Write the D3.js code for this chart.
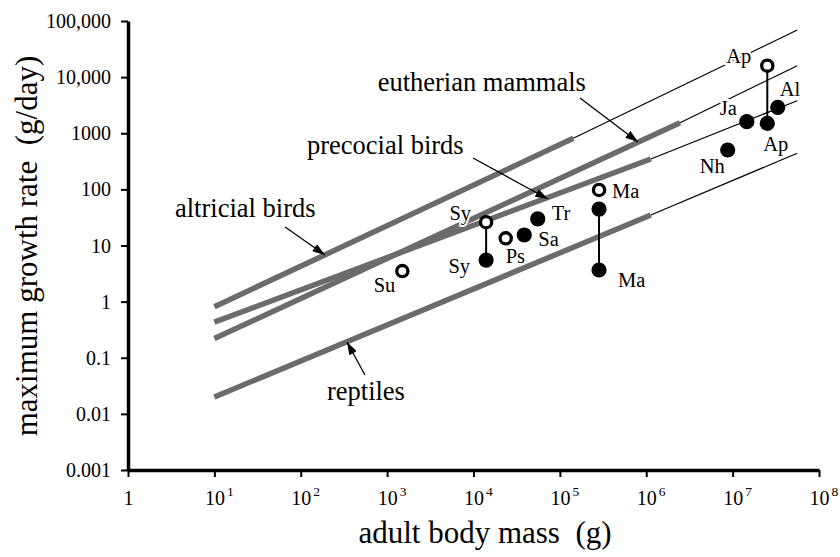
<!DOCTYPE html>
<html>
<head>
<meta charset="utf-8">
<script src="https://cdn.jsdelivr.net/npm/d3@7"></script>
<style>
  html, body { margin: 0; padding: 0; background: #fff; }
  svg { display: block; }
  text { font-family: "Liberation Serif", "Times New Roman", Times, serif; fill: #000; }
</style>
</head>
<body>
<svg id="chart" width="840" height="557"></svg>
<script>
// ---- axis ticks ----
const massTicks = [1, 1e1, 1e2, 1e3, 1e4, 1e5, 1e6, 1e7, 1e8];
const massTickExponents = ["", "1", "2", "3", "4", "5", "6", "7", "8"];
const rateTicks = [0.001, 0.01, 0.1, 1, 10, 100, 1000, 10000, 100000];
const rateTickLabels = ["0.001", "0.01", "0.1", "1", "10", "100", "1000", "10,000", "100,000"];

// ---- allometric growth lines (solid part over the data range, thin extrapolation) ----
const lineGroups       = ["altricial birds", "eutherian mammals", "precocial birds", "reptiles"];
const lineStartMass    = [10, 10, 10, 10];
const lineStartRate    = [0.81, 0.22, 0.43, 0.02];
const lineSolidEndMass = [1.43e5, 2.46e6, 1.13e6, 1.13e6];
const lineSolidEndRate = [813, 1540, 348, 35];
const lineEndMass      = [5.6e7, 5.6e7, 5.6e7, 5.6e7];
const lineEndRate      = [69000, 16000, 3800, 440];

// ---- dinosaur growth-rate estimates ----
const speciesCodes = ["Su", "Sy", "Sy", "Ps", "Sa", "Tr", "Ma", "Ma", "Ma", "Nh", "Ja", "Ap", "Ap", "Al"];
const speciesMass  = [1500, 14000, 14000, 23600, 38700, 55400, 2.84e5, 2.84e5, 2.84e5, 8.77e6, 1.46e7, 2.52e7, 2.52e7, 3.33e7];
const speciesRate  = [3.5, 26, 5.5, 13.4, 15.4, 29.7, 97.5, 44.7, 3.66, 503, 1607, 1505, 16000, 2900];
const speciesOpen  = [true, true, false, true, false, false, true, false, false, false, false, false, true, false];
const linkedPairs  = [[1, 2], [7, 8], [11, 12]];

// ---- annotation text anchors and arrows, in data units ----
const annoText      = ["eutherian mammals", "precocial birds", "altricial birds", "reptiles"];
const annoTextMass  = [2.0e5, 118, 3.5, 201];
const annoTextRate  = [5660, 426, 32.2, 0.0177];
const annoAnchor    = ["end", "start", "start", "start"];
const annoTailMass  = [1.71e5, 9870, 65.8, 554];
const annoTailRate  = [4245, 362, 21.4, 0.0493];
const annoTipMass   = [8.03e5, 72800, 191, 343];
const annoTipRate   = [700, 67.4, 6.77, 0.191];

// label placement offsets (px) for each species marker
const labelPlacement = [
  {dx: -7,  dy: 21,  anchor: "end"},    // Su
  {dx: -15, dy: -2,  anchor: "end"},    // Sy open
  {dx: -16, dy: 13,  anchor: "end"},    // Sy
  {dx: 0,   dy: 25,  anchor: "start"},  // Ps
  {dx: 14,  dy: 11,  anchor: "start"},  // Sa
  {dx: 14,  dy: 1,   anchor: "start"},  // Tr
  {dx: 13,  dy: 8,   anchor: "start"},  // Ma open
  null,                                 // Ma (upper, unlabeled)
  {dx: 19,  dy: 17,  anchor: "start"},  // Ma
  {dx: -3,  dy: 23,  anchor: "end"},    // Nh
  {dx: -10, dy: -7,  anchor: "end"},    // Ja
  {dx: -4,  dy: 28,  anchor: "start"},  // Ap
  {dx: -16, dy: -3,  anchor: "end"},    // Ap open
  {dx: 2,   dy: -11, anchor: "start"}   // Al
];

const svg = d3.select("#chart");
svg.append("rect").attr("width", 840).attr("height", 557).attr("fill", "#fff");

const x = d3.scaleLog().domain([1, 1e8]).range([128, 819]);
const y = d3.scaleLog().domain([0.001, 100000]).range([470, 21]);

const GRAY = "#6b6b6b";

// arrow marker
svg.append("defs").append("marker")
  .attr("id", "arrowhead")
  .attr("markerUnits", "userSpaceOnUse")
  .attr("viewBox", "0 0 12 8")
  .attr("refX", 12).attr("refY", 4)
  .attr("markerWidth", 13).attr("markerHeight", 8.5)
  .attr("orient", "auto")
  .append("path").attr("d", "M0,0 L12,4 L0,8 Z").attr("fill", "#000");

// ---- axes ----
const yAxis = svg.append("g")
  .attr("transform", `translate(${x(1)},0)`)
  .call(d3.axisLeft(y).tickValues(rateTicks)
    .tickFormat((d, i) => rateTickLabels[i])
    .tickSize(7).tickSizeOuter(0).tickPadding(10));
yAxis.select(".domain").attr("stroke", "#000").attr("stroke-width", 3.5);
yAxis.selectAll(".tick line").attr("stroke", "#000").attr("stroke-width", 2);
yAxis.selectAll(".tick text").attr("font-size", 20)
  .attr("font-family", "'Liberation Serif', 'Times New Roman', serif").attr("dy", "0.33em");

const xAxis = svg.append("g")
  .attr("transform", `translate(0,${y(0.001)})`)
  .call(d3.axisBottom(x).tickValues(massTicks).tickFormat("")
    .tickSize(7).tickSizeOuter(0));
xAxis.select(".domain").attr("stroke", "#000").attr("stroke-width", 3.5);
xAxis.selectAll(".tick line").attr("stroke", "#000").attr("stroke-width", 2);
xAxis.selectAll(".tick").each(function (d, i) {
  const g = d3.select(this);
  const exp = massTickExponents[i];
  g.append("text")
    .attr("x", 0).attr("y", 35)
    .attr("text-anchor", "middle")
    .attr("font-size", 20)
    .text(exp === "" ? "1" : "10");
  if (exp !== "") {
    g.append("text")
      .attr("x", 12).attr("y", 26)
      .attr("text-anchor", "start")
      .attr("font-size", 13.5)
      .text(exp);
  }
});

// axis titles
svg.append("text")
  .attr("x", 485).attr("y", 543)
  .attr("text-anchor", "middle")
  .attr("font-size", 31)
  .attr("xml:space", "preserve")
  .style("white-space", "pre")
  .text("adult body mass  (g)");

svg.append("text")
  .attr("transform", "translate(37,246) rotate(-90)")
  .attr("text-anchor", "middle")
  .attr("font-size", 31)
  .style("white-space", "pre")
  .text("maximum growth rate  (g/day)");

// ---- growth lines ----
const lines = lineGroups.map((name, i) => ({
  name,
  p0: [lineStartMass[i], lineStartRate[i]],
  p1: [lineSolidEndMass[i], lineSolidEndRate[i]],
  p2: [lineEndMass[i], lineEndRate[i]]
}));
const seg = d3.line().x(d => x(d[0])).y(d => y(d[1]));

svg.append("g").selectAll("path.thin").data(lines).join("path")
  .attr("class", "thin")
  .attr("d", d => seg([d.p1, d.p2]))
  .attr("fill", "none").attr("stroke", "#000").attr("stroke-width", 1.2);

svg.append("g").selectAll("path.thick").data(lines).join("path")
  .attr("class", "thick")
  .attr("d", d => seg([d.p0, d.p1]))
  .attr("fill", "none").attr("stroke", GRAY).attr("stroke-width", 5.5)
  .attr("stroke-linecap", "butt");

// ---- annotations ----
const annos = annoText.map((t, i) => ({
  t, anchor: annoAnchor[i],
  tx: x(annoTextMass[i]), ty: y(annoTextRate[i]),
  x1: x(annoTailMass[i]), y1: y(annoTailRate[i]),
  x2: x(annoTipMass[i]), y2: y(annoTipRate[i])
}));
const ag = svg.append("g");
ag.selectAll("line").data(annos).join("line")
  .attr("x1", d => d.x1).attr("y1", d => d.y1)
  .attr("x2", d => d.x2).attr("y2", d => d.y2)
  .attr("stroke", "#000").attr("stroke-width", 1.3)
  .attr("marker-end", "url(#arrowhead)");
ag.selectAll("text").data(annos).join("text")
  .attr("x", d => d.tx).attr("y", d => d.ty)
  .attr("text-anchor", d => d.anchor)
  .attr("font-size", 26.5)
  .text(d => d.t);

// ---- species markers ----
const pts = speciesCodes.map((c, i) => ({
  code: c, mass: speciesMass[i], rate: speciesRate[i], open: speciesOpen[i], place: labelPlacement[i]
}));

svg.append("g").selectAll("line").data(linkedPairs).join("line")
  .attr("x1", d => x(speciesMass[d[0]])).attr("y1", d => y(speciesRate[d[0]]))
  .attr("x2", d => x(speciesMass[d[1]])).attr("y2", d => y(speciesRate[d[1]]))
  .attr("stroke", "#000").attr("stroke-width", 2);

// labels with a white halo so they break the thin lines beneath
svg.append("g").selectAll("text").data(pts.filter(p => p.place)).join("text")
  .attr("x", d => x(d.mass) + d.place.dx)
  .attr("y", d => y(d.rate) + d.place.dy)
  .attr("text-anchor", d => d.place.anchor)
  .attr("font-size", 20.5)
  .attr("stroke", "#fff").attr("stroke-width", 4)
  .attr("paint-order", "stroke")
  .text(d => d.code);

const mg = svg.append("g");
mg.selectAll("circle.filled").data(pts.filter(p => !p.open)).join("circle")
  .attr("class", "filled")
  .attr("cx", d => x(d.mass)).attr("cy", d => y(d.rate))
  .attr("r", 7.6).attr("fill", "#000");
mg.selectAll("circle.open").data(pts.filter(p => p.open)).join("circle")
  .attr("class", "open")
  .attr("cx", d => x(d.mass)).attr("cy", d => y(d.rate))
  .attr("r", 5.6).attr("fill", "#fff").attr("stroke", "#000").attr("stroke-width", 3.3);
</script>
</body>
</html>
